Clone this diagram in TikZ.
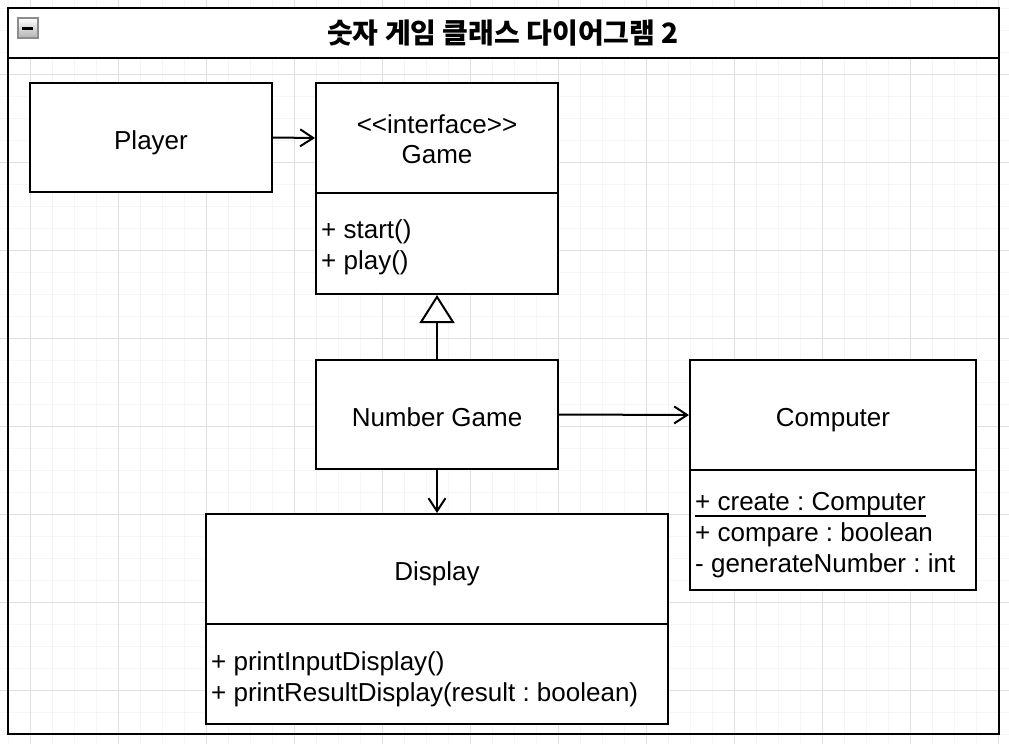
\documentclass[tikz,border=0pt]{standalone}
\usepackage{fontspec}
\setmainfont{Liberation Sans}
\newfontfamily\krfont{Noto Sans CJK KR}
\frenchspacing
\usetikzlibrary{arrows.meta}
\tikzset{
  gridminor/.style={draw=black!4, line width=1pt},
  gridmajor/.style={draw=black!12, line width=1pt},
  umlbox/.style={draw, line width=2pt, fill=white, inner sep=0pt, align=center, text height=26pt, text depth=2.5pt, font=\fontsize{26}{30}\selectfont},
  umltext/.style={anchor=base, inner sep=0pt, font=\fontsize{26}{30}\selectfont},
  umlop/.style={anchor=base west, inner sep=0pt, font=\fontsize{26}{30}\selectfont},
  uses/.style={line width=2pt, -{Straight Barb[length=13pt,width=17pt,line width=2pt]}},
  realizes/.style={line width=2pt, -{Triangle[open,length=28pt,width=35pt,fill=white,line width=2pt]}}
}

\begin{document}
\begin{tikzpicture}[x=1pt, y=-1pt]
	%%%%% START %%%%%
	\useasboundingbox (0,0) rectangle (1009,744);
	\fill[white] (0,0) rectangle (1009,744);
	
	% background grid
	\foreach \k in {0,...,45}
		\draw[gridminor] (8+22*\k, 0) -- (8+22*\k, 744);
	\foreach \k in {0,...,33}
		\draw[gridminor] (0, 8+22*\k) -- (1009, 8+22*\k);
	\foreach \k in {0,...,11}
		\draw[gridmajor] (30+88*\k, 0) -- (30+88*\k, 744);
	\foreach \k in {0,...,8}
		\draw[gridmajor] (0, 74+88*\k) -- (1009, 74+88*\k);
	
	% frame with title bar
	\draw[line width=2pt, fill=white] (8, 8) rectangle (999, 58);
	\draw[line width=2pt] (8, 58) rectangle (999, 734);
	\shade[top color=white, bottom color=black!30, draw=black!45, line width=1.5pt] (18, 18) rectangle (38, 38);
	\fill[black] (22, 27) rectangle (33, 29.5);
	\node[font=\fontsize{28}{32}\selectfont\krfont\bfseries] (title) at (503, 33) {숫자 게임 클래스 다이어그램 2};
	
	% classes
	\node[umlbox, minimum width=242pt, minimum height=109pt] (player) at (151, 137.5) {Player};
	
	\node[umlbox, minimum width=242pt, minimum height=110pt] (game) at (437, 138) {};
	\node[umltext] (stereo) at (437, 133) {<\kern0pt<interface>\kern0pt>};
	\node[umltext] (gamename) at (437, 163) {Game};
	\node[umlbox, minimum width=242pt, minimum height=101pt] (gameops) at (437, 243.5) {};
	\node[umlop] (start) at (321, 238) {+ start()};
	\node[umlop] (play) at (321, 269) {+ play()};
	
	\node[umlbox, minimum width=242pt, minimum height=109pt] (numgame) at (437, 414.5) {Number Game};
	
	\node[umlbox, minimum width=286pt, minimum height=110pt] (computer) at (833, 415) {Computer};
	\node[umlbox, minimum width=286pt, minimum height=120pt] (computerops) at (833, 530) {};
	\node[umlop] (create) at (695, 510) {+ create : Computer};
	\draw[line width=2pt] ([yshift=-6pt]create.base west) -- ([yshift=-6pt]create.base east);
	\node[umlop] (compare) at (695, 541) {+ compare : boolean};
	\node[umlop] (generate) at (695, 572) {- generateNumber : int};
	
	\node[umlbox, minimum width=462pt, minimum height=110pt] (display) at (437, 569) {Display};
	\node[umlbox, minimum width=462pt, minimum height=100pt] (displayops) at (437, 674) {};
	\node[umlop] (printinput) at (211, 670) {+ printInputDisplay()};
	\node[umlop] (printresult) at (211, 701) {+ printResultDisplay(result : boolean)};
	
	% relations
	\draw[uses] (player.east) -- (game.west);
	\draw[realizes] (numgame.north) -- (gameops.south);
	\draw[uses] (numgame.east) -- (computer.west);
	\draw[uses] (numgame.south) -- (display.north);
	%%%%% END %%%%%
\end{tikzpicture}
\end{document}
